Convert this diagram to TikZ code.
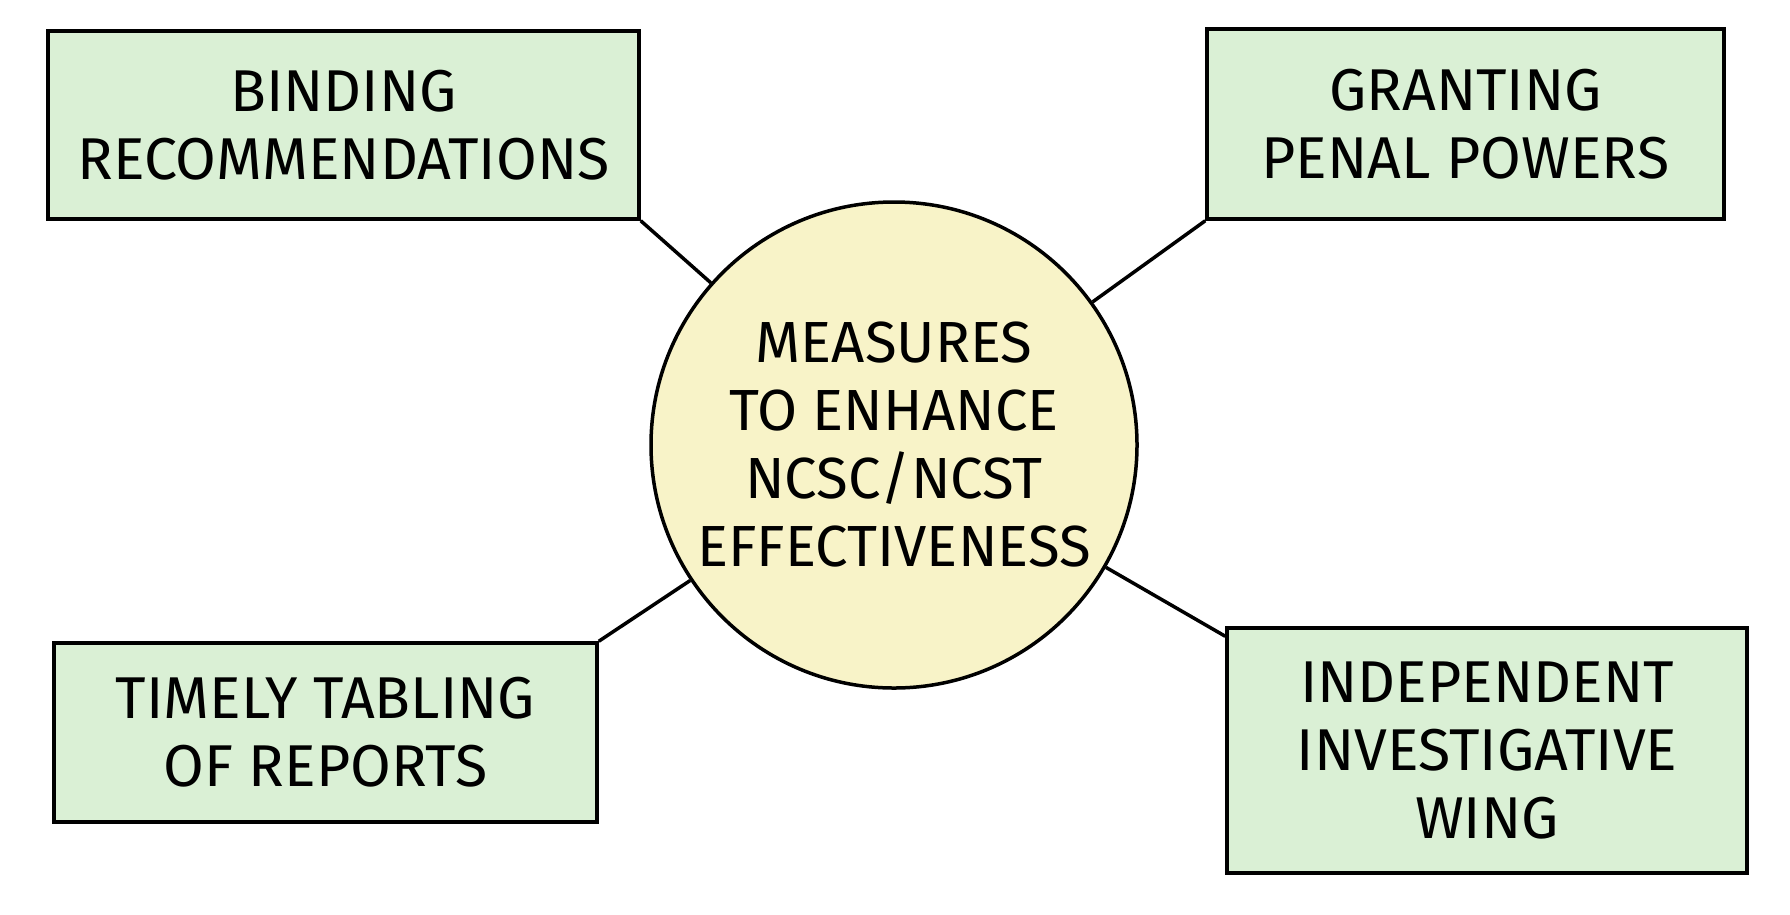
\documentclass[tikz,border=0pt]{standalone}
\usepackage{fontspec}
\setmainfont{Fira Sans}
\begin{document}
\begin{tikzpicture}[x=1pt,y=-1pt,
  box/.style={draw=black,line width=3.5pt,fill=boxg,inner sep=0pt,font=\fontsize{59}{68}\selectfont,align=center},
  link/.style={line width=3.5pt}]
\definecolor{boxg}{HTML}{DAF0D5}
\definecolor{cy}{HTML}{F8F3C8}
\useasboundingbox (0,0) rectangle (1790,914);
\node[box,minimum width=591pt,minimum height=188pt] (tl) at (343.5,125) {BINDING\\RECOMMENDATIONS};
\node[box,minimum width=517pt,minimum height=190pt] (tr) at (1465.5,124) {GRANTING\\PENAL POWERS};
\node[box,minimum width=543pt,minimum height=179pt] (bl) at (325.5,732.5) {TIMELY TABLING\\OF REPORTS};
\node[box,minimum width=520pt,minimum height=245pt] (br) at (1487,750.5) {INDEPENDENT\\INVESTIGATIVE\\WING};
\node[circle,draw=black,line width=3.5pt,fill=cy,minimum size=486pt,inner sep=0pt,align=center,font=\fontsize{58}{68}\selectfont] (c) at (894,445) {MEASURES\\TO ENHANCE\\NCSC/NCST\\EFFECTIVENESS};
\draw[link] (tl.south east) -- (c);
\draw[link] (tr.south west) -- (c);
\draw[link] (bl.north east) -- (c);
\draw[link] ([yshift=-10pt]br.north west) -- (c);
\end{tikzpicture}
\end{document}
